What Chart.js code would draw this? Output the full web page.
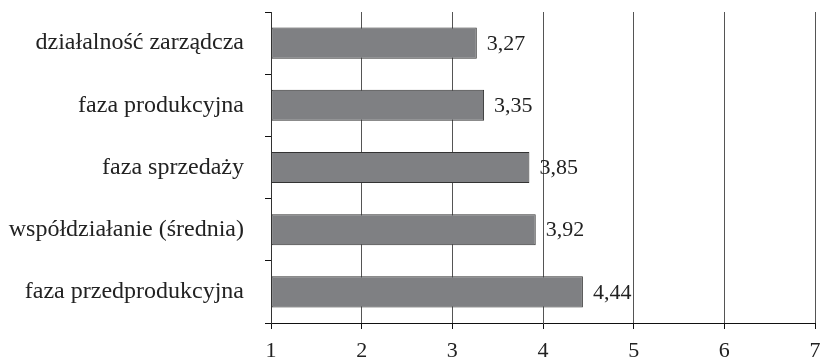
<!DOCTYPE html>
<html>
<head>
<meta charset="utf-8">
<script src="https://cdn.jsdelivr.net/npm/chart.js@4/dist/chart.umd.min.js"></script>
<style>
  html, body { margin: 0; padding: 0; background: #fff; overflow: hidden; }
  #wrap { width: 820px; height: 360px; }
</style>
</head>
<body>
<div id="wrap"><canvas id="myChart"></canvas></div>
<script>
const categories = [
    'działalność zarządcza',
    'faza produkcyjna',
    'faza sprzedaży',
    'współdziałanie (średnia)',
    'faza przedprodukcyjna'
];
const scores = [3.27, 3.35, 3.85, 3.92, 4.44];
const xTicks = [1, 2, 3, 4, 5, 6, 7];

const serif = '"Liberation Serif", "Times New Roman", serif';

// writes the score next to the end of each bar, Polish decimal comma
const valueLabels = {
    id: 'valueLabels',
    afterDatasetsDraw(chart) {
        const ctx = chart.ctx;
        const meta = chart.getDatasetMeta(0);
        ctx.save();
        ctx.font = '22px ' + serif;
        ctx.fillStyle = '#222';
        ctx.textAlign = 'left';
        ctx.textBaseline = 'middle';
        meta.data.forEach((bar, i) => {
            ctx.fillText(scores[i].toFixed(2).replace('.', ','), bar.x + 10, bar.y + 1);
        });
        ctx.restore();
    }
};

const ctx = document.getElementById('myChart').getContext('2d');
const chart = new Chart(ctx, {
    type: 'bar',
    data: {
        labels: categories,
        datasets: [{
            data: scores,
            base: 1,
            backgroundColor: '#7f8083',
            borderColor: '#333',
            borderWidth: 1,
            borderSkipped: false,
            barPercentage: 0.5,
            categoryPercentage: 1
        }]
    },
    options: {
        indexAxis: 'y',
        responsive: true,
        maintainAspectRatio: false,
        animation: false,
        layout: { padding: { top: 12, right: 5, left: 0, bottom: 0 } },
        plugins: {
            legend: { display: false },
            tooltip: { enabled: false }
        },
        scales: {
            x: {
                min: 1,
                max: 7,
                afterBuildTicks: scale => {
                    scale.ticks = xTicks.map(v => ({ value: v }));
                },
                afterFit: scale => {
                    scale.height = 37;
                    scale.paddingLeft = 0;
                    scale.paddingRight = 0;
                },
                grid: {
                    color: '#555',
                    lineWidth: 1,
                    tickLength: 6,
                    tickColor: '#111'
                },
                border: { display: true, color: '#111', width: 1 },
                ticks: {
                    color: '#222',
                    padding: 9,
                    font: { family: serif, size: 22 }
                }
            },
            y: {
                afterFit: scale => {
                    scale.width = 271;
                    scale.paddingTop = 0;
                    scale.paddingBottom = 0;
                },
                grid: {
                    offset: true,
                    drawOnChartArea: false,
                    tickLength: 6,
                    tickColor: '#111'
                },
                border: { display: true, color: '#333', width: 1 },
                ticks: {
                    color: '#222',
                    padding: 21,
                    font: { family: serif, size: 24 }
                }
            }
        }
    },
    plugins: [valueLabels]
});
</script>
</body>
</html>
